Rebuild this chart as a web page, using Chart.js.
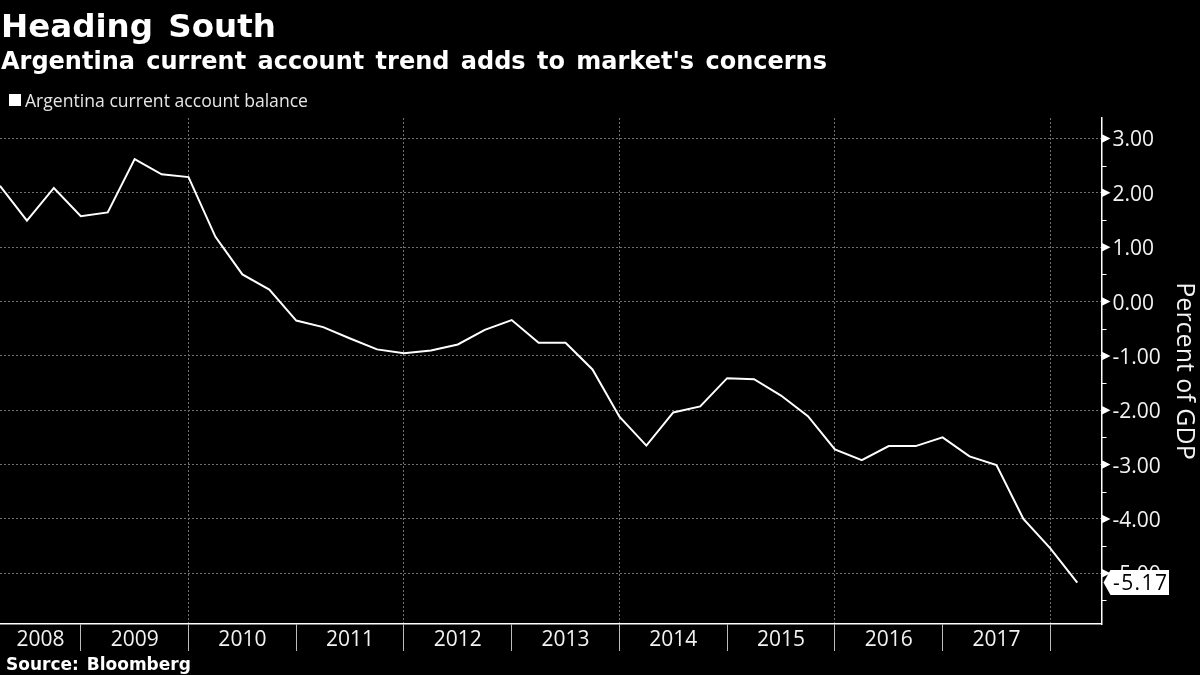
<!DOCTYPE html>
<html>
<head>
<meta charset="utf-8">
<title>Heading South</title>
<style>
html, body { margin: 0; padding: 0; background: #000; }
canvas { display: block; }
</style>
<script src="https://cdn.jsdelivr.net/npm/chart.js@4/dist/chart.umd.min.js"></script>
</head>
<body>
<canvas id="myChart" width="1200" height="675"></canvas>
<script>
var headline = 'Heading South';
var subhead = "Argentina current account trend adds to market's concerns";
var seriesName = 'Argentina current account balance';
var sourceText = 'Source: Bloomberg';
var axisTitle = 'Percent of GDP';

// quarter index where each year starts, the last one is the unlabelled stub
var yearStarts = [0, 3, 7, 11, 15, 19, 23, 27, 31, 35, 39];
var yearLabels = ['2008', '2009', '2010', '2011', '2012', '2013', '2014', '2015', '2016', '2017'];
var gridYears = [7, 15, 23, 31, 39];
var yTicks = [3, 2, 1, 0, -1, -2, -3, -4, -5];
var yMinorTicks = [2.5, 1.5, 0.5, -0.5, -1.5, -2.5, -3.5, -4.5, -5.5];

var balance = [
	2.13, 1.49, 2.09, 1.57, 1.64, 2.62, 2.34, 2.29, 1.19, 0.50,
	0.22, -0.35, -0.47, -0.68, -0.88, -0.95, -0.90, -0.79, -0.52, -0.34,
	-0.76, -0.76, -1.25, -2.12, -2.65, -2.04, -1.93, -1.41, -1.43, -1.73,
	-2.11, -2.72, -2.92, -2.66, -2.66, -2.50, -2.85, -3.01, -4.00, -4.54,
	-5.17
];

var textFont = '"Open Sans", sans-serif';
var headFont = '"DejaVu Sans", sans-serif';
var textColor = '#f2f2f2';

var extras = {
	id: 'extras',
	beforeDraw: function(chart) {
		// Open Sans sits a bit high on a middle baseline
		chart.scales.y.getLabelItems().forEach(function(item) {
			item.options.translation[1] += 2;
		});
	},
	afterDraw: function(chart) {
		var ctx = chart.ctx;
		var y = chart.scales.y;
		var axisX = chart.chartArea.right;
		ctx.save();

		// headline block
		ctx.fillStyle = '#fff';
		ctx.textAlign = 'left';
		ctx.textBaseline = 'alphabetic';
		ctx.font = 'bold 32.5px ' + headFont;
		ctx.wordSpacing = '4px';
		ctx.fillText(headline, 1, 37);
		ctx.font = 'bold 24px ' + headFont;
		ctx.wordSpacing = '3px';
		ctx.fillText(subhead, 1, 69);
		ctx.wordSpacing = '0px';

		// legend
		ctx.fillRect(9, 94, 12, 12);
		ctx.fillStyle = '#e6e6e6';
		ctx.font = '17.6px ' + textFont;
		ctx.fillText(seriesName, 25, 107);

		// source
		ctx.fillStyle = '#fff';
		ctx.font = 'bold 17px ' + headFont;
		ctx.wordSpacing = '2px';
		ctx.fillText(sourceText, 6, 670);
		ctx.wordSpacing = '0px';

		// y axis tick marks
		ctx.fillStyle = '#fff';
		yTicks.forEach(function(v) {
			var py = y.getPixelForValue(v);
			ctx.beginPath();
			ctx.moveTo(axisX, py - 4.5);
			ctx.lineTo(axisX + 9, py);
			ctx.lineTo(axisX, py + 4.5);
			ctx.closePath();
			ctx.fill();
		});
		ctx.strokeStyle = '#fff';
		ctx.lineWidth = 1;
		yMinorTicks.forEach(function(v) {
			var py = Math.round(y.getPixelForValue(v)) + 0.5;
			ctx.beginPath();
			ctx.moveTo(axisX, py);
			ctx.lineTo(axisX + 5, py);
			ctx.stroke();
		});

		// last value flag
		var last = balance[balance.length - 1];
		var ly = y.getPixelForValue(last);
		ctx.fillStyle = '#fff';
		ctx.beginPath();
		ctx.moveTo(axisX + 2, ly);
		ctx.lineTo(axisX + 9, ly - 12.5);
		ctx.lineTo(1169, ly - 12.5);
		ctx.lineTo(1169, ly + 12.5);
		ctx.lineTo(axisX + 9, ly + 12.5);
		ctx.closePath();
		ctx.fill();
		ctx.fillStyle = '#000';
		ctx.font = '21px ' + textFont;
		ctx.letterSpacing = '1.4px';
		ctx.textBaseline = 'middle';
		ctx.fillText(last.toFixed(2), 1113, ly + 1);
		ctx.letterSpacing = '0px';

		ctx.restore();
	}
};

var ctx = document.getElementById('myChart').getContext('2d');
var myChart = new Chart(ctx, {
	type: 'line',
	plugins: [extras],
	data: {
		datasets: [{
			label: seriesName,
			data: balance.map(function(v, i) { return { x: i, y: v }; }),
			borderColor: '#fff',
			borderWidth: 2,
			pointRadius: 0,
			tension: 0
		}]
	},
	options: {
		responsive: false,
		animation: false,
		layout: { padding: { top: 118, left: 0, right: 0, bottom: 0 } },
		plugins: {
			legend: { display: false },
			title: { display: false },
			tooltip: { enabled: false }
		},
		scales: {
			x: {
				type: 'linear',
				min: 0,
				max: 40.9,
				afterBuildTicks: function(scale) {
					var ticks = yearStarts.map(function(v) { return { value: v }; });
					yearLabels.forEach(function(label, i) {
						ticks.push({ value: (yearStarts[i] + yearStarts[i + 1]) / 2 });
					});
					scale.ticks = ticks.sort(function(a, b) { return a.value - b.value; });
				},
				afterFit: function(scale) { scale.height = 51; },
				border: { color: '#fff', width: 1.5, dash: [2, 2] },
				grid: {
					color: function(c) {
						return c.tick && gridYears.indexOf(c.tick.value) >= 0 ? '#707070' : 'transparent';
					},
					tickColor: function(c) {
						return c.tick && yearStarts.indexOf(c.tick.value) > 0 ? '#bbb' : 'transparent';
					},
					tickBorderDash: [],
					tickLength: 27
				},
				ticks: {
					color: textColor,
					font: { family: textFont, size: 21 },
					padding: -24,
					autoSkip: false,
					maxRotation: 0,
					minRotation: 0,
					callback: function(v) {
						var i = yearStarts.findIndex(function(s, k) {
							return k < yearLabels.length && (s + yearStarts[k + 1]) / 2 === v;
						});
						return i >= 0 ? yearLabels[i] : '';
					}
				}
			},
			y: {
				position: 'right',
				min: -5.933,
				max: 3.377,
				afterBuildTicks: function(scale) {
					scale.ticks = yTicks.map(function(v) { return { value: v }; });
				},
				afterFit: function(scale) { scale.width = 98.5; },
				border: { color: '#fff', width: 1.5, dash: [2, 2] },
				grid: {
					color: '#707070',
					drawTicks: false
				},
				ticks: {
					color: textColor,
					font: { family: textFont, size: 21 },
					padding: 11,
					autoSkip: false,
					callback: function(v) { return v.toFixed(2); }
				},
				title: {
					display: true,
					text: axisTitle,
					color: textColor,
					font: { family: textFont, size: 25 },
					padding: { top: 1, bottom: 0 }
				}
			}
		}
	}
});
</script>
</body>
</html>
